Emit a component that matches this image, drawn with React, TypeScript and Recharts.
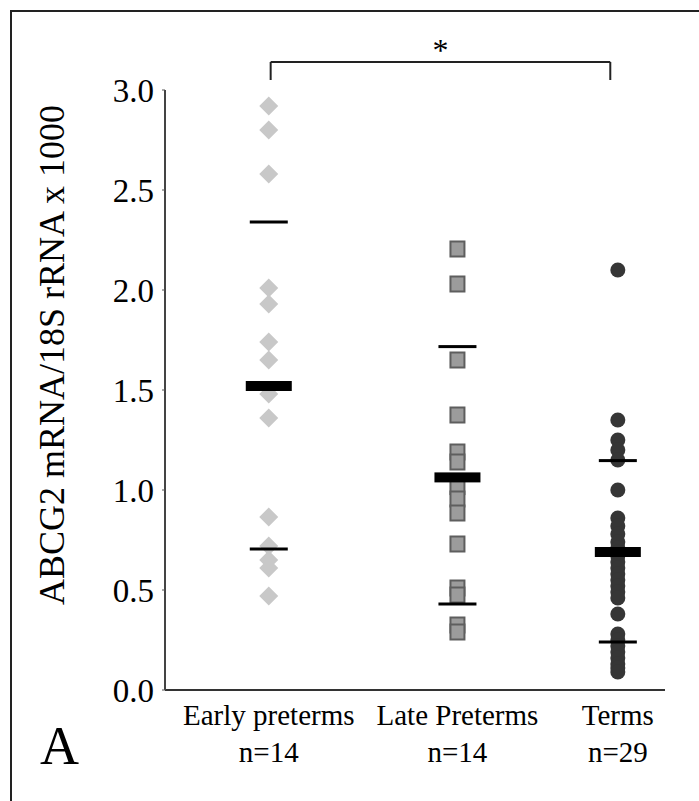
import {
  ReferenceLine,
  Scatter,
  ScatterChart,
  XAxis,
  YAxis,
} from "recharts";

const groups = ["Early preterms", "Late Preterms", "Terms"];
const groupCounts = ["n=14", "n=14", "n=29"];
const groupPositions = [1, 2, 2.85];

const earlyPreterms = [2.92, 2.8, 2.58, 2.01, 1.93, 1.74, 1.65, 1.48, 1.36, 0.865, 0.72, 0.65, 0.61, 0.47];
const latePreterms = [2.205, 2.03, 1.65, 1.375, 1.19, 1.14, 1.017, 0.955, 0.885, 0.73, 0.51, 0.475, 0.325, 0.29];
const terms = [
  2.1, 1.35, 1.25, 1.2, 1.15, 1.0, 0.86, 0.82, 0.78, 0.74, 0.71, 0.69, 0.67, 0.64, 0.61,
  0.58, 0.55, 0.52, 0.49, 0.46, 0.38, 0.28, 0.25, 0.22, 0.19, 0.16, 0.13, 0.11, 0.09,
];

const groupMeans = [1.52, 1.063, 0.69];
const sdUpper = [2.34, 1.717, 1.147];
const sdLower = [0.705, 0.43, 0.24];

const yTicks = [0, 0.5, 1, 1.5, 2, 2.5, 3];
const bracketEnds = [1.01, 2.81];
const bracketTop = 3.14;
const bracketFoot = 3.05;

const FONT = "'Liberation Serif', 'Times New Roman', serif";

const toPoints = (values: number[], pos: number) => values.map((y) => ({ x: pos, y }));

const meanData = groupMeans.map((y, i) => ({ x: groupPositions[i], y }));
const sdData = [...sdUpper, ...sdLower].map((y, i) => ({ x: groupPositions[i % 3], y }));

function Diamond({ cx, cy }: any) {
  const r = 9.5;
  return (
    <path
      d={`M${cx},${cy - r} L${cx + r},${cy} L${cx},${cy + r} L${cx - r},${cy} Z`}
      fill="#c8c8c8"
    />
  );
}

function Square({ cx, cy }: any) {
  return (
    <rect x={cx - 7} y={cy - 7.5} width={14} height={15} fill="#9c9c9c" stroke="#5e5e5e" strokeWidth={2} />
  );
}

function Dot({ cx, cy }: any) {
  return <circle cx={cx} cy={cy} r={7.5} fill="#363636" />;
}

function MeanBar({ cx, cy }: any) {
  return <rect x={cx - 23} y={cy - 5} width={46} height={10} fill="#000" />;
}

function SdBar({ cx, cy }: any) {
  return <rect x={cx - 19} y={cy - 1.5} width={38} height={3} fill="#000" />;
}

function GroupTick({ x, y, payload }: any) {
  const i = groupPositions.indexOf(payload.value);
  return (
    <g>
      <text x={x} y={y + 35} textAnchor="middle" fontFamily={FONT} fontSize={29} fill="#000">
        {groups[i]}
      </text>
      <text x={x} y={y + 72} textAnchor="middle" fontFamily={FONT} fontSize={29} fill="#000">
        {groupCounts[i]}
      </text>
    </g>
  );
}

export default function App() {
  return (
    <div
      style={{
        position: "absolute",
        left: 0,
        top: 0,
        width: 699,
        height: 801,
        background: "#fff",
        overflow: "hidden",
      }}
    >
      <div style={{ position: "absolute", left: 10, top: 10, width: 689, height: 2, background: "#222" }} />
      <div style={{ position: "absolute", left: 10, top: 10, width: 2, height: 791, background: "#222" }} />
      <div
        style={{
          position: "absolute",
          left: 40,
          top: 716,
          fontFamily: FONT,
          fontSize: 54,
          lineHeight: "60px",
          color: "#000",
        }}
      >
        A
      </div>
      <div style={{ position: "absolute", left: 0, top: 0 }}>
        <ScatterChart width={699} height={801} margin={{ top: 90, right: 34, bottom: 11, left: 105 }}>
          <XAxis
            type="number"
            dataKey="x"
            domain={[0.45, 3.1]}
            ticks={groupPositions}
            tick={<GroupTick />}
            tickLine={false}
            tickSize={0}
            tickMargin={0}
            height={100}
            axisLine={{ stroke: "#333", strokeWidth: 2 }}
            allowDataOverflow
          />
          <YAxis
            type="number"
            dataKey="y"
            domain={[0, 3]}
            ticks={yTicks}
            width={60}
            tickFormatter={(v: number) => v.toFixed(1)}
            tick={{ fill: "#000", fontSize: 33, fontFamily: FONT }}
            tickSize={3}
            tickMargin={8}
            tickLine={{ stroke: "#555" }}
            axisLine={{ stroke: "#444", strokeWidth: 2 }}
            allowDataOverflow
            label={{
              content: () => (
                <text
                  x={52}
                  y={355}
                  transform="rotate(-90 52 355)"
                  textAnchor="middle"
                  dominantBaseline="central"
                  fontFamily={FONT}
                  fontSize={36}
                  fill="#000"
                >
                  ABCG2 mRNA/18S rRNA x 1000
                </text>
              ),
            }}
          />
          <ReferenceLine
            segment={[
              { x: bracketEnds[0], y: bracketTop },
              { x: bracketEnds[1], y: bracketTop },
            ]}
            stroke="#222"
            strokeWidth={2}
            ifOverflow="visible"
            label={{ value: "*", position: "top", fontSize: 32, fontFamily: FONT, fill: "#000", dy: 4 }}
          />
          <ReferenceLine
            segment={[
              { x: bracketEnds[0], y: bracketTop },
              { x: bracketEnds[0], y: bracketFoot },
            ]}
            stroke="#222"
            strokeWidth={2}
            ifOverflow="visible"
          />
          <ReferenceLine
            segment={[
              { x: bracketEnds[1], y: bracketTop },
              { x: bracketEnds[1], y: bracketFoot },
            ]}
            stroke="#222"
            strokeWidth={2}
            ifOverflow="visible"
          />
          <Scatter data={toPoints(earlyPreterms, groupPositions[0])} shape={<Diamond />} isAnimationActive={false} />
          <Scatter data={toPoints(latePreterms, groupPositions[1])} shape={<Square />} isAnimationActive={false} />
          <Scatter data={toPoints(terms, groupPositions[2])} shape={<Dot />} isAnimationActive={false} />
          <Scatter data={sdData} shape={<SdBar />} isAnimationActive={false} />
          <Scatter data={meanData} shape={<MeanBar />} isAnimationActive={false} />
        </ScatterChart>
      </div>
    </div>
  );
}
